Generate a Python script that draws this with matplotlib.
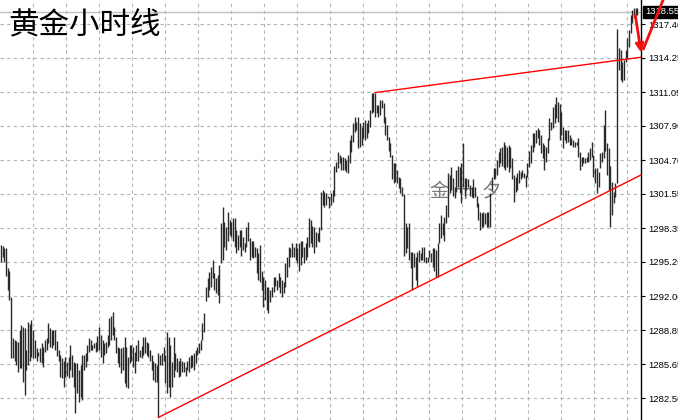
import matplotlib
matplotlib.use("Agg")
import matplotlib.pyplot as plt
import matplotlib.transforms as mtransforms
import numpy as np

plt.rcParams["font.family"] = ["Liberation Sans", "Noto Sans CJK SC", "DejaVu Sans"]

# hourly gold bars (high / low per bar)
highs = [
    1296.8, 1296.7, 1296.5, 1296.5, 1294.6, 1294.4, 1291.9, 1288.1, 1287.9, 1287.8,
    1287.7, 1288.9, 1289.3, 1289.1, 1289.0, 1287.0, 1289.6, 1289.4, 1289.8, 1288.9,
    1287.9, 1287.2, 1286.8, 1287.2, 1287.6, 1287.3, 1287.9, 1288.1, 1289.5, 1289.0,
    1288.9, 1288.9, 1288.9, 1287.8, 1287.0, 1286.5, 1286.2, 1286.0, 1286.3, 1285.9,
    1286.3, 1287.5, 1286.5, 1285.9, 1285.8, 1285.8, 1285.1, 1285.6, 1286.5, 1286.5,
    1286.7, 1287.5, 1288.1, 1287.9, 1287.5, 1287.6, 1287.7, 1288.3, 1289.1, 1288.4,
    1287.9, 1287.6, 1287.7, 1288.4, 1290.0, 1290.2, 1290.5, 1289.1, 1288.2, 1287.3,
    1287.2, 1287.2, 1287.3,
    # ---
    1288.2, 1287.3, 1286.3, 1287.5, 1287.5, 1287.3, 1286.8, 1287.5, 1287.9, 1287.0,
    1287.4, 1288.2, 1288.2, 1287.7, 1287.6, 1287.0, 1286.5, 1286.0, 1285.8, 1285.6,
    1286.7, 1286.5, 1286.7, 1287.3, 1286.5, 1288.7, 1288.2, 1287.5, 1285.9, 1288.2,
    1286.7, 1286.2, 1286.0, 1286.2, 1286.0, 1285.9, 1285.4, 1286.0, 1286.3, 1286.5,
    1286.5, 1286.7, 1287.0, 1287.3, 1287.6, 1287.9, 1289.5, 1290.4, 1292.9, 1293.7,
    1294.3, 1294.7, 1295.4, 1294.2, 1293.7, 1294.0, 1294.9, 1298.8, 1300.3, 1298.9,
    1298.5, 1299.9, 1299.1, 1298.9, 1299.3, 1299.3, 1298.2, 1297.7, 1298.2,
    # ---
    1298.2, 1297.5, 1297.0, 1298.5, 1298.9, 1297.4, 1297.2, 1297.2, 1296.6, 1296.5,
    1296.0, 1296.8, 1294.4, 1293.8, 1293.5, 1292.9, 1292.9, 1292.6, 1292.9, 1293.8,
    1293.8, 1293.5, 1294.2, 1293.8, 1293.5, 1293.3, 1295.1, 1295.7, 1296.6, 1296.5,
    1297.0, 1296.6, 1297.0, 1296.5, 1297.0, 1297.2, 1297.2, 1296.6, 1297.0, 1297.5,
    1299.3, 1299.1, 1298.6, 1298.5, 1298.0, 1297.9, 1298.5, 1301.7, 1301.9, 1301.7,
    1301.6, 1301.4, 1301.3, 1301.6, 1301.9, 1304.2, 1304.5, 1305.5, 1305.2, 1305.0,
    1305.0, 1304.9, 1304.7, 1305.2, 1306.6, 1307.0, 1308.2, 1308.7, 1308.3, 1308.7,
    1308.2, 1307.8, 1308.3, 1308.4, 1308.2,
    # ---
    1308.4, 1309.4, 1311.0, 1311.0, 1311.0, 1309.8, 1309.8, 1310.3, 1310.3, 1310.0,
    1308.7, 1308.0, 1306.9, 1306.3, 1305.2, 1304.4, 1304.4, 1303.8, 1303.1, 1303.0,
    1302.2, 1301.5, 1298.8, 1298.5, 1298.8, 1296.1, 1296.1, 1296.0, 1295.7, 1296.1,
    1296.3, 1296.0, 1296.6, 1296.6, 1295.7, 1295.7, 1296.3, 1296.0, 1296.5, 1296.5,
    1296.3, 1297.0, 1298.8, 1299.6, 1298.8, 1299.4, 1300.5, 1303.5, 1303.3, 1304.1,
    1303.0, 1302.2, 1303.8, 1304.2, 1304.1, 1304.4, 1306.3, 1303.0, 1303.0, 1302.9,
    1302.4, 1302.2, 1302.9, 1302.2, 1301.4, 1300.7, 1299.9, 1299.8, 1299.9, 1299.8,
    1299.9, 1299.9, 1301.6, 1303.1, 1304.0, 1304.0, 1304.7, 1305.5,
    # ---
    1305.8, 1305.9, 1306.4, 1306.1, 1305.9, 1306.1, 1305.9, 1304.9, 1303.3, 1303.1,
    1303.5, 1303.8, 1303.6, 1303.8, 1303.5, 1303.3, 1304.4, 1305.6, 1306.1, 1307.2,
    1307.2, 1307.5, 1307.7, 1307.5, 1307.0, 1306.3, 1306.1, 1305.9, 1306.8, 1308.6,
    1308.3, 1309.7, 1309.9, 1310.6, 1310.1, 1309.9, 1309.2, 1307.8, 1307.5, 1307.5,
    1307.5, 1307.0, 1306.8, 1306.6, 1306.4, 1306.4, 1306.8, 1305.5, 1305.0, 1305.0,
    1304.9, 1305.0, 1305.5, 1305.8, 1306.4, 1305.2, 1304.0, 1304.0, 1303.6, 1305.4,
    1305.5, 1308.0, 1309.4, 1306.3, 1305.8, 1304.2, 1302.7, 1301.7, 1302.6,
    # ---
    1316.9, 1315.2, 1315.0, 1313.9, 1314.0, 1315.0, 1316.1, 1316.8, 1318.2, 1318.7,
    1318.9, 1318.9, 1318.9,
]

lows = [
    1295.2, 1295.7, 1295.2, 1293.9, 1292.6, 1291.7, 1286.2, 1286.2, 1286.0, 1285.6,
    1284.9, 1285.3, 1285.3, 1284.0, 1282.8, 1285.1, 1285.6, 1286.0, 1286.3, 1286.2,
    1286.2, 1286.0, 1286.4, 1285.9, 1285.8, 1285.4, 1286.8, 1287.0, 1287.6, 1287.3,
    1287.2, 1287.5, 1287.0, 1286.4, 1286.0, 1284.5, 1284.4, 1283.5, 1284.5, 1284.6,
    1284.4, 1285.1, 1284.5, 1283.5, 1281.1, 1283.0, 1282.1, 1282.6, 1282.3, 1285.1,
    1285.4, 1286.0, 1286.8, 1287.0, 1287.0, 1287.2, 1286.8, 1286.9, 1287.0, 1286.3,
    1285.8, 1286.5, 1286.7, 1287.3, 1287.5, 1287.9, 1288.4, 1287.9, 1286.7, 1285.8,
    1285.4, 1284.8, 1285.1,
    # ---
    1283.9, 1283.5, 1283.4, 1285.8, 1286.0, 1285.4, 1284.8, 1286.0, 1286.0, 1286.3,
    1286.2, 1286.5, 1286.7, 1286.5, 1286.3, 1286.0, 1285.1, 1284.2, 1284.0, 1284.0,
    1280.7, 1285.6, 1285.6, 1286.0, 1283.9, 1283.0, 1283.5, 1282.6, 1283.5, 1284.5,
    1285.1, 1284.9, 1284.5, 1284.6, 1284.9, 1284.9, 1284.6, 1285.1, 1284.9, 1285.3,
    1285.4, 1285.1, 1285.8, 1286.5, 1286.7, 1287.0, 1287.9, 1288.7, 1291.6, 1291.9,
    1292.6, 1292.9, 1293.7, 1292.6, 1292.3, 1292.1, 1291.4, 1295.1, 1295.4, 1296.6,
    1296.3, 1297.2, 1297.7, 1297.5, 1297.2, 1296.6, 1296.0, 1296.3, 1296.6,
    # ---
    1295.8, 1296.3, 1296.1, 1296.6, 1297.2, 1295.4, 1295.7, 1295.6, 1295.7, 1294.2,
    1293.5, 1293.3, 1292.6, 1291.0, 1291.7, 1290.7, 1290.4, 1291.5, 1291.9, 1292.4,
    1293.0, 1292.6, 1292.9, 1292.3, 1291.9, 1292.3, 1292.9, 1293.8, 1294.7, 1295.7,
    1295.7, 1295.7, 1295.4, 1295.1, 1294.4, 1294.9, 1295.7, 1295.1, 1295.4, 1295.7,
    1296.6, 1297.0, 1296.6, 1296.0, 1296.6, 1297.2, 1297.1, 1298.2, 1300.5, 1300.3,
    1300.5, 1301.2, 1300.2, 1300.5, 1300.8, 1301.4, 1303.6, 1304.0, 1304.4, 1303.8,
    1303.8, 1303.8, 1303.6, 1303.5, 1304.4, 1305.5, 1306.4, 1307.3, 1307.5, 1305.8,
    1305.9, 1306.1, 1306.8, 1306.6, 1306.8,
    # ---
    1307.2, 1307.8, 1309.1, 1309.2, 1308.7, 1309.1, 1308.7, 1308.9, 1309.6, 1308.2,
    1307.0, 1306.6, 1305.6, 1305.0, 1302.9, 1302.6, 1302.7, 1302.6, 1302.1, 1301.6,
    1301.4, 1295.8, 1296.0, 1296.5, 1295.4, 1294.6, 1292.6, 1294.7, 1293.5, 1293.0,
    1295.2, 1295.4, 1295.4, 1295.2, 1295.1, 1295.2, 1295.7, 1295.2, 1294.7, 1294.4,
    1293.8, 1293.8, 1297.0, 1297.4, 1297.7, 1297.2, 1298.8, 1299.4, 1301.6, 1301.9,
    1301.4, 1301.2, 1301.7, 1302.2, 1301.6, 1300.7, 1302.2, 1301.4, 1301.9, 1302.2,
    1301.4, 1301.3, 1301.2, 1301.3, 1300.3, 1299.1, 1298.2, 1298.5, 1298.5, 1298.7,
    1298.5, 1298.5, 1298.5, 1301.9, 1302.9, 1303.0, 1303.3, 1304.1,
    # ---
    1304.4, 1304.2, 1304.0, 1303.8, 1304.1, 1303.6, 1304.0, 1302.9, 1300.8, 1301.7,
    1301.9, 1302.6, 1302.9, 1303.1, 1303.0, 1302.2, 1303.1, 1304.1, 1304.4, 1305.5,
    1305.9, 1306.3, 1306.8, 1306.1, 1305.4, 1304.9, 1303.8, 1304.5, 1305.4, 1306.6,
    1307.5, 1307.7, 1308.2, 1308.6, 1308.3, 1306.6, 1307.0, 1305.8, 1306.6, 1306.3,
    1306.4, 1306.1, 1306.1, 1305.9, 1305.9, 1306.1, 1305.0, 1303.8, 1304.2, 1304.4,
    1304.4, 1304.5, 1304.5, 1304.7, 1305.0, 1303.1, 1302.6, 1301.6, 1302.2, 1304.0,
    1304.5, 1304.9, 1305.6, 1303.3, 1301.9, 1298.5, 1299.6, 1300.7, 1301.3,
    # ---
    1302.6, 1313.1, 1312.2, 1312.0, 1312.2, 1313.9, 1314.2, 1315.3, 1316.6, 1317.5,
    1318.0, 1318.2, 1318.2,
]

assert len(highs) == len(lows)

last_price = 1318.55
price_ticks = [1282.50, 1285.65, 1288.85, 1292.00, 1295.20, 1298.35,
               1301.55, 1304.70, 1307.90, 1311.05, 1314.25, 1317.40]

# trendlines: (bar index, price) anchor pairs
support_line = [(93, 1280.7), (243, 1292.6)]
resist_line = [(221, 1311.0), (378, 1314.3)]

n = len(highs)
x = np.arange(n)
x_left, x_right = -0.6, n + 1.1

fig = plt.figure(figsize=(6.78, 4.2), dpi=100)
ax = fig.add_axes([0, 0, 641 / 678, 1])
ax.set_xlim(x_left, x_right)
ax.set_ylim(1280.46, 1319.64)

# dashed grid, vertical lines every ~33 px of the 641 px wide plot
grid_kw = dict(color="#b4b4b4", lw=0.8, ls=(0, (3, 3)), zorder=0)
for px in np.arange(32.5, 641, 33.05):
    ax.axvline(x_left + px / 641 * (x_right - x_left), **grid_kw)
for gy in price_ticks:
    ax.axhline(gy, **grid_kw)

# bid line
ax.axhline(last_price, color="#c0c0c0", lw=1.0, zorder=1)

# watermark
for ch, fx in [("金", 0.685), ("十", 0.726), ("夕", 0.766)]:
    ax.text(fx, 0.543, ch, transform=ax.transAxes, fontsize=14, color="#7a7a7a",
            ha="center", va="center", family=["Noto Sans CJK SC"],
            fontweight="light", zorder=1)

# bars
ax.vlines(x, lows, highs, color="#2a2a2a", lw=1.0, zorder=2)

# trendlines extended to the right edge
def extend(pts, x_end):
    (x0, y0), (x1, y1) = pts
    slope = (y1 - y0) / (x1 - x0)
    return [x0, x_end], [y0, y0 + slope * (x_end - x0)]

sx, sy = extend(support_line, x_right)
rx, ry = extend(resist_line, x_right)
ax.plot(sx, sy, color="red", lw=1.0, zorder=3)
ax.plot(rx, ry, color="red", lw=1.0, zorder=3)

# hand drawn arrows near the last bar
ax.annotate("", xy=(x_right + 0.3, ry[1] + 0.2), xytext=(n - 2.5, last_price - 0.1),
            arrowprops=dict(arrowstyle="-|>", color="#f01010", lw=2.0, mutation_scale=12),
            annotation_clip=False, zorder=5)
ax.plot([x_right + 1.5, x_right + 16], [ry[1] + 0.8, ry[1] + 6.5], color="#f01010",
        lw=2.0, clip_on=False, zorder=5)

# right price axis
for s in ["left", "top", "bottom"]:
    ax.spines[s].set_visible(False)
ax.spines["right"].set_color("black")
ax.spines["right"].set_linewidth(1.0)
ax.set_xticks([])
ax.yaxis.tick_right()
ax.set_yticks(price_ticks)
ax.set_yticklabels([f"{v:.2f}" for v in price_ticks])
ax.tick_params(axis="y", direction="out", length=3, width=0.8, pad=2.5,
               labelsize=6.8, colors="black")

trans = mtransforms.blended_transform_factory(ax.transAxes, ax.transData)
ax.text(1.006, last_price, f"{last_price:.2f}", transform=trans, fontsize=6.8,
        color="white", va="center", ha="left", clip_on=False, zorder=4,
        bbox=dict(boxstyle="square,pad=0.15", fc="black", ec="black"))

fig.text(8 / 678, 1 - 25 / 420, "黄金小时线", fontsize=22, color="black",
         family=["Noto Sans CJK SC"], fontweight="light", va="center", ha="left")

fig.savefig("out.png", dpi=100, facecolor="white")
